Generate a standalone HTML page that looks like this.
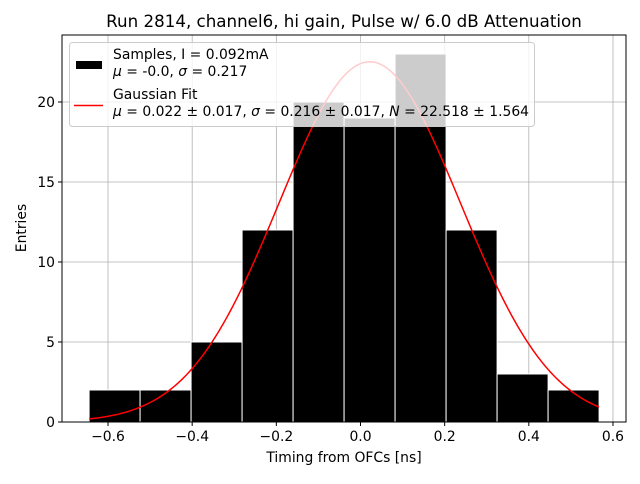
<!DOCTYPE html>
<html><head><meta charset="utf-8"><style>
body{margin:0;background:#fff;font-family:"DejaVu Sans","Liberation Sans",sans-serif}
svg text{font-family:"DejaVu Sans","Liberation Sans",sans-serif}
</style></head><body>
<svg id="c" width="640" height="480" xmlns="http://www.w3.org/2000/svg"></svg>
<script>
const binEdges=[-0.645,-0.5238,-0.4026,-0.2814,-0.1602,-0.039,0.0822,0.2034,0.3246,0.4458,0.567];
const counts=[2,2,5,12,20,19,23,12,3,2];
const fitMu=0.022, fitSigma=0.216, fitN=22.518;
const xTicks=[-0.6,-0.4,-0.2,0.0,0.2,0.4,0.6];
const xTickLabels=["−0.6","−0.4","−0.2","0.0","0.2","0.4","0.6"];
const yTicks=[0,5,10,15,20];
const NS="http://www.w3.org/2000/svg";
const svg=document.getElementById('c');
const L=62,R=626,T=35,B=422;
const X=v=>360.5+v*420.8;
const Y=v=>422-v*16;
function el(tag,attrs,parent){const e=document.createElementNS(NS,tag);for(const k in attrs)e.setAttribute(k,attrs[k]);(parent||svg).appendChild(e);return e;}
xTicks.forEach(t=>{const g=el('line',{x1:X(t),x2:X(t),y1:T,y2:B,stroke:'#b0b0b0','stroke-width':0.8});

});
yTicks.forEach(t=>{const g=el('line',{x1:L,x2:R,y1:Y(t),y2:Y(t),stroke:'#b0b0b0','stroke-width':0.8});

});
counts.forEach((c,i)=>{const x0=X(binEdges[i]),x1=X(binEdges[i+1]);
const r=el('rect',{x:x0,y:Y(c),width:x1-x0,height:Y(0)-Y(c),fill:'#000',stroke:'#fff','stroke-width':1});

});
let d='';const n=200;const a=binEdges[0],b=binEdges[binEdges.length-1];
for(let i=0;i<=n;i++){const v=a+(b-a)*i/n;const y=fitN*Math.exp(-0.5*((v-fitMu)/fitSigma)**2);d+=(i?'L':'M')+X(v).toFixed(2)+','+Y(y).toFixed(2);}
const p=el('path',{d:d,fill:'none',stroke:'red','stroke-width':1.5});


const f=el('rect',{x:L,y:T,width:R-L,height:B-T,fill:'none',stroke:'#000','stroke-width':1});


xTicks.forEach((t,i)=>{el('line',{x1:X(t),x2:X(t),y1:B,y2:B+4,stroke:'#000'});
const tx=el('text',{x:X(t),y:B+19,'font-size':13.9,'text-anchor':'middle'});tx.textContent=xTickLabels[i];

});
yTicks.forEach(t=>{el('line',{x1:L-4,x2:L,y1:Y(t),y2:Y(t),stroke:'#000'});
const tx=el('text',{x:L-7,y:Y(t)+5,'font-size':13.9,'text-anchor':'end'});tx.textContent=t;

});
</script>
<svg width="640" height="480" style="position:absolute;left:0;top:0" xmlns="http://www.w3.org/2000/svg">
<text x="344" y="27" font-size="16.7" text-anchor="middle">Run 2814, channel6, hi gain, Pulse w/ 6.0 dB Attenuation</text>
<text x="344" y="462" font-size="13.9" text-anchor="middle">Timing from OFCs [ns]</text>
<text x="26" y="228" font-size="13.9" text-anchor="middle" transform="rotate(-90 26 228)">Entries</text>
<g>
<rect x="69.5" y="42.5" width="465" height="84" rx="3" fill="#fff" fill-opacity="0.8" stroke="#ccc"/>
<rect x="76" y="61" width="26" height="8" fill="#000"/>
<text x="113" y="59" font-size="13.9">Samples, I = 0.092mA</text>
<text x="113" y="76" font-size="13.9"><tspan font-style="italic">μ</tspan> = -0.0, <tspan font-style="italic">σ</tspan> = 0.217</text>
<line x1="74" y1="105.5" x2="103" y2="105.5" stroke="red" stroke-width="1.5"/>
<text x="113" y="99" font-size="13.9">Gaussian Fit</text>
<text x="113" y="116" font-size="13.9"><tspan font-style="italic">μ</tspan> = 0.022 ± 0.017, <tspan font-style="italic">σ</tspan> = 0.216 ± 0.017, <tspan font-style="italic">N</tspan> = 22.518 ± 1.564</text>
</g>
</svg>
</body></html>
